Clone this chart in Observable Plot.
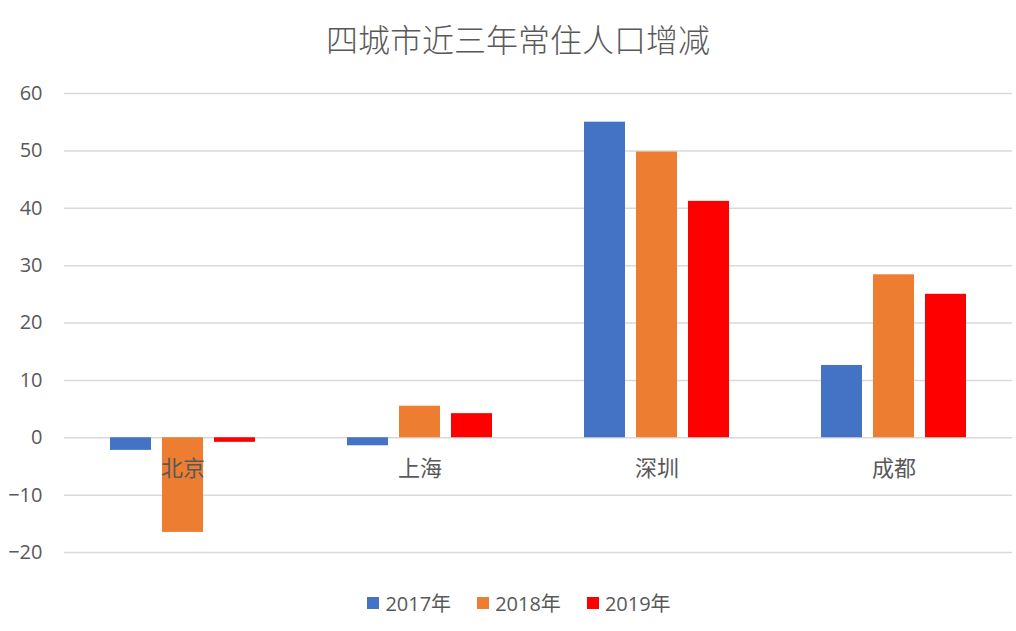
<!DOCTYPE html>
<html>
<head>
<meta charset="utf-8">
<script src="https://cdn.jsdelivr.net/npm/d3@7"></script>
<script src="https://cdn.jsdelivr.net/npm/@observablehq/plot@0.6"></script>
<style>
  html, body { margin: 0; padding: 0; background: #fff; }
  body { width: 1016px; height: 631px; overflow: hidden; font-family: "Open Sans", "Noto Sans CJK SC", sans-serif; color: #595959; }
  #title { height: 70px; line-height: 76px; text-align: center; font-size: 32px; font-family: "Noto Sans CJK SC", sans-serif; font-weight: 300; color: #595959; padding-left: 20px; }
  #legend { display: flex; justify-content: center; align-items: center; gap: 26px; font-size: 20px; margin-top: 8px; padding-left: 22px; font-family: "Open Sans", "Noto Sans CJK SC", sans-serif; }
  #legend .item { display: flex; align-items: center; gap: 6px; }
  #legend .sw { width: 12px; height: 12px; display: inline-block; }
</style>
</head>
<body>
<div id="title">四城市近三年常住人口增减</div>
<div id="chart"></div>
<div id="legend"></div>
<script>
const cities = ["北京", "上海", "深圳", "成都"];
const years = ["2017年", "2018年", "2019年"];
const colors = ["#4472C4", "#ED7D31", "#FF0000"];
const values2017 = [-2.2, -1.4, 55.0, 12.6];
const values2018 = [-16.5, 5.5, 49.8, 28.4];
const values2019 = [-0.8, 4.2, 41.2, 25.0];
const yTicks = [-20, -10, 0, 10, 20, 30, 40, 50, 60];

const series = [values2017, values2018, values2019];
const data = [];
cities.forEach((c, i) => {
  years.forEach((y, j) => data.push({city: c, year: y, value: series[j][i]}));
});

const chart = Plot.plot({
  width: 1016,
  height: 510,
  marginTop: 23,
  marginBottom: 28,
  marginLeft: 63,
  marginRight: 4,
  style: {fontFamily: "'Open Sans', 'Noto Sans CJK SC', sans-serif", color: "#595959", background: "#fff"},
  fx: {domain: cities, padding: 0, axis: null},
  x: {domain: years, paddingInner: 0.22, paddingOuter: 0.867, axis: null},
  y: {domain: [-20, 60], ticks: yTicks, grid: false, label: null},
  color: {domain: years, range: colors},
  marks: [
    Plot.gridY(yTicks, {stroke: "#d9d9d9", strokeOpacity: 1, strokeWidth: 1.5}),
    Plot.barY(data, {fx: "city", x: "year", y: "value", fill: "year"}),
    Plot.text(cities, {fx: d => d, y: () => 0, text: d => d, dy: 31, fontSize: 22, fill: "#595959", fontFamily: "'Noto Sans CJK SC', sans-serif"}),
    Plot.axisY(yTicks, {tickSize: 0, tickPadding: 22, fontSize: 20, fill: "#595959", label: null, anchor: "left"})
  ]
});
document.getElementById("chart").appendChild(chart);

const legend = document.getElementById("legend");
years.forEach((y, j) => {
  const item = document.createElement("div");
  item.className = "item";
  const sw = document.createElement("span");
  sw.className = "sw";
  sw.style.background = colors[j];
  const t = document.createElement("span");
  t.textContent = y;
  item.appendChild(sw);
  item.appendChild(t);
  legend.appendChild(item);
});
</script>
</body>
</html>
